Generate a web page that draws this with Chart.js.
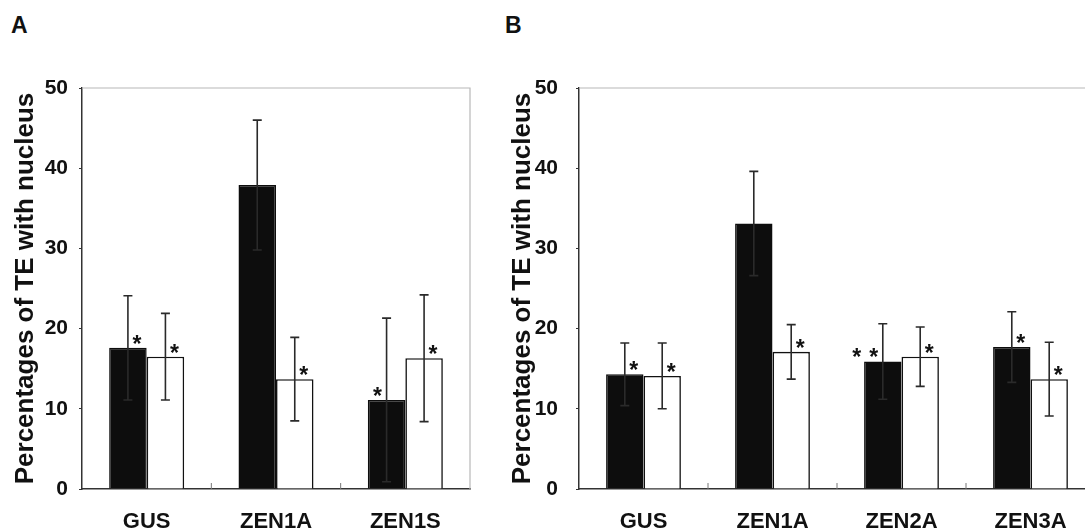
<!DOCTYPE html>
<html>
<head>
<meta charset="utf-8">
<script src="https://cdn.jsdelivr.net/npm/chart.js@4.4.0/dist/chart.umd.min.js"></script>
<style>
  body { margin: 0; background: #fff; width: 1085px; height: 528px; overflow: hidden; position: relative; }
  canvas { position: absolute; top: 0; }
  .panel { position: absolute; top: 14px; font: bold 23px "Liberation Sans", Arial, sans-serif; line-height: 22px; color: #111; }
</style>
</head>
<body>
<div class="panel" style="left:11px">A</div>
<div class="panel" style="left:505px">B</div>
<canvas id="chartA" width="490" height="528" style="left:0"></canvas>
<canvas id="chartB" width="620" height="528" style="left:497px"></canvas>
<script>
const labelsA = ["GUS", "ZEN1A", "ZEN1S"];
const blackA = [17.6, 37.9, 11.1];
const blackErrA = [6.5, 8.1, 10.2];
const whiteA = [16.5, 13.7, 16.3];
const whiteErrA = [5.4, 5.2, 7.9];
const blackStarsA = ["R", "", "L"];
const whiteStarsA = ["R", "R", "R"];

const labelsB = ["GUS", "ZEN1A", "ZEN2A", "ZEN3A"];
const blackB = [14.3, 33.1, 15.9, 17.7];
const blackErrB = [3.9, 6.5, 4.7, 4.4];
const whiteB = [14.1, 17.1, 16.5, 13.7];
const whiteErrB = [4.1, 3.4, 3.7, 4.6];
const blackStarsB = ["R", "", "LL", "R"];
const whiteStarsB = ["R", "R", "R", "R"];

const yTicks = [0, 10, 20, 30, 40, 50];
const yTitle = "Percentages of TE with nucleus";

const FONT = "'Liberation Sans', Arial, sans-serif";

// error bars, asterisks, inner x tick marks and the light plot frame
const extras = {
  id: "extras",
  beforeDatasetsDraw(chart) {
    const { ctx, chartArea: a } = chart;
    ctx.save();
    ctx.strokeStyle = "#b8b8b8";
    ctx.lineWidth = 1.2;
    ctx.beginPath();
    ctx.moveTo(a.left, a.top);
    ctx.lineTo(a.right, a.top);
    ctx.lineTo(a.right, a.bottom);
    ctx.stroke();
    ctx.restore();
  },
  afterDatasetsDraw(chart) {
    const { ctx, chartArea: a } = chart;
    const x = chart.scales.x;
    const y = chart.scales.y;
    ctx.save();
    // small tick marks on the category axis, pointing into the plot
    ctx.strokeStyle = "#777";
    ctx.lineWidth = 1;
    const n = chart.data.labels.length;
    for (let i = 1; i < n; i++) {
      const px = (x.getPixelForValue(i - 1) + x.getPixelForValue(i)) / 2;
      ctx.beginPath();
      ctx.moveTo(px, a.bottom);
      ctx.lineTo(px, a.bottom - 6);
      ctx.stroke();
    }
    chart.data.datasets.forEach((ds, di) => {
      const meta = chart.getDatasetMeta(di);
      meta.data.forEach((bar, i) => {
        const v = ds.data[i];
        const e = ds.errors[i];
        const cx = bar.x;
        const yHi = y.getPixelForValue(v + e);
        const yLo = y.getPixelForValue(Math.max(v - e, 0));
        ctx.strokeStyle = "#2a2a2a";
        ctx.lineWidth = 1.6;
        ctx.beginPath();
        ctx.moveTo(cx, yHi); ctx.lineTo(cx, yLo);
        ctx.moveTo(cx - 4.5, yHi); ctx.lineTo(cx + 4.5, yHi);
        ctx.moveTo(cx - 4.5, yLo); ctx.lineTo(cx + 4.5, yLo);
        ctx.stroke();
        const stars = ds.stars[i] || "";
        const top = y.getPixelForValue(v);
        ctx.fillStyle = "#111";
        ctx.font = "bold 23px " + FONT;
        ctx.textAlign = "center";
        ctx.textBaseline = "alphabetic";
        let left = 0;
        for (const s of stars) {
          let sx;
          if (s === "R") sx = cx + 9;
          else { sx = cx - 9 - 17 * left; left++; }
          ctx.fillText("*", sx, top + 4);
        }
      });
    });
    ctx.restore();
  }
};

function makeChart(id, labels, black, blackErr, blackStars, white, whiteErr, whiteStars, tickPad, padRight) {
  return new Chart(document.getElementById(id), {
    type: "bar",
    data: {
      labels: labels,
      datasets: [
        {
          data: black,
          errors: blackErr,
          stars: blackStars,
          backgroundColor: "#0d0d0d",
          borderColor: "#0d0d0d",
          borderWidth: 1.5,
          categoryPercentage: 0.58,
          barPercentage: 1,
        },
        {
          data: white,
          errors: whiteErr,
          stars: whiteStars,
          backgroundColor: "#fff",
          borderColor: "#111",
          borderWidth: 1.6,
          categoryPercentage: 0.58,
          barPercentage: 1,
        },
      ],
    },
    options: {
      responsive: false,
      animation: false,
      layout: { padding: { top: 88, right: padRight, bottom: 0, left: 0 } },
      plugins: { legend: { display: false }, tooltip: { enabled: false } },
      scales: {
        x: {
          grid: { display: false },
          border: { color: "#333", width: 1.5 },
          ticks: { color: "#111", padding: 12, font: { family: FONT, size: 22, weight: "bold" } },
          afterFit: (s) => { s.height = 39; },
        },
        y: {
          min: 0,
          max: 50,
          afterBuildTicks: (s) => { s.ticks = yTicks.map((v) => ({ value: v })); },
          grid: { drawOnChartArea: false, tickLength: 3, color: "#333" },
          border: { color: "#333", width: 1.5 },
          ticks: { color: "#111", padding: tickPad, font: { family: FONT, size: 21, weight: "bold" } },
          title: {
            display: true,
            text: yTitle,
            color: "#111",
            padding: { top: 10, bottom: 0 },
            font: { family: FONT, size: 26, weight: "bold" },
          },
          afterFit: (s) => { s.width = 82; },
        },
      },
    },
    plugins: [extras],
  });
}

makeChart("chartA", labelsA, blackA, blackErrA, blackStarsA, whiteA, whiteErrA, whiteStarsA, 11, 20);
makeChart("chartB", labelsB, blackB, blackErrB, blackStarsB, whiteB, whiteErrB, whiteStarsB, 18, 22);
</script>
</body>
</html>
